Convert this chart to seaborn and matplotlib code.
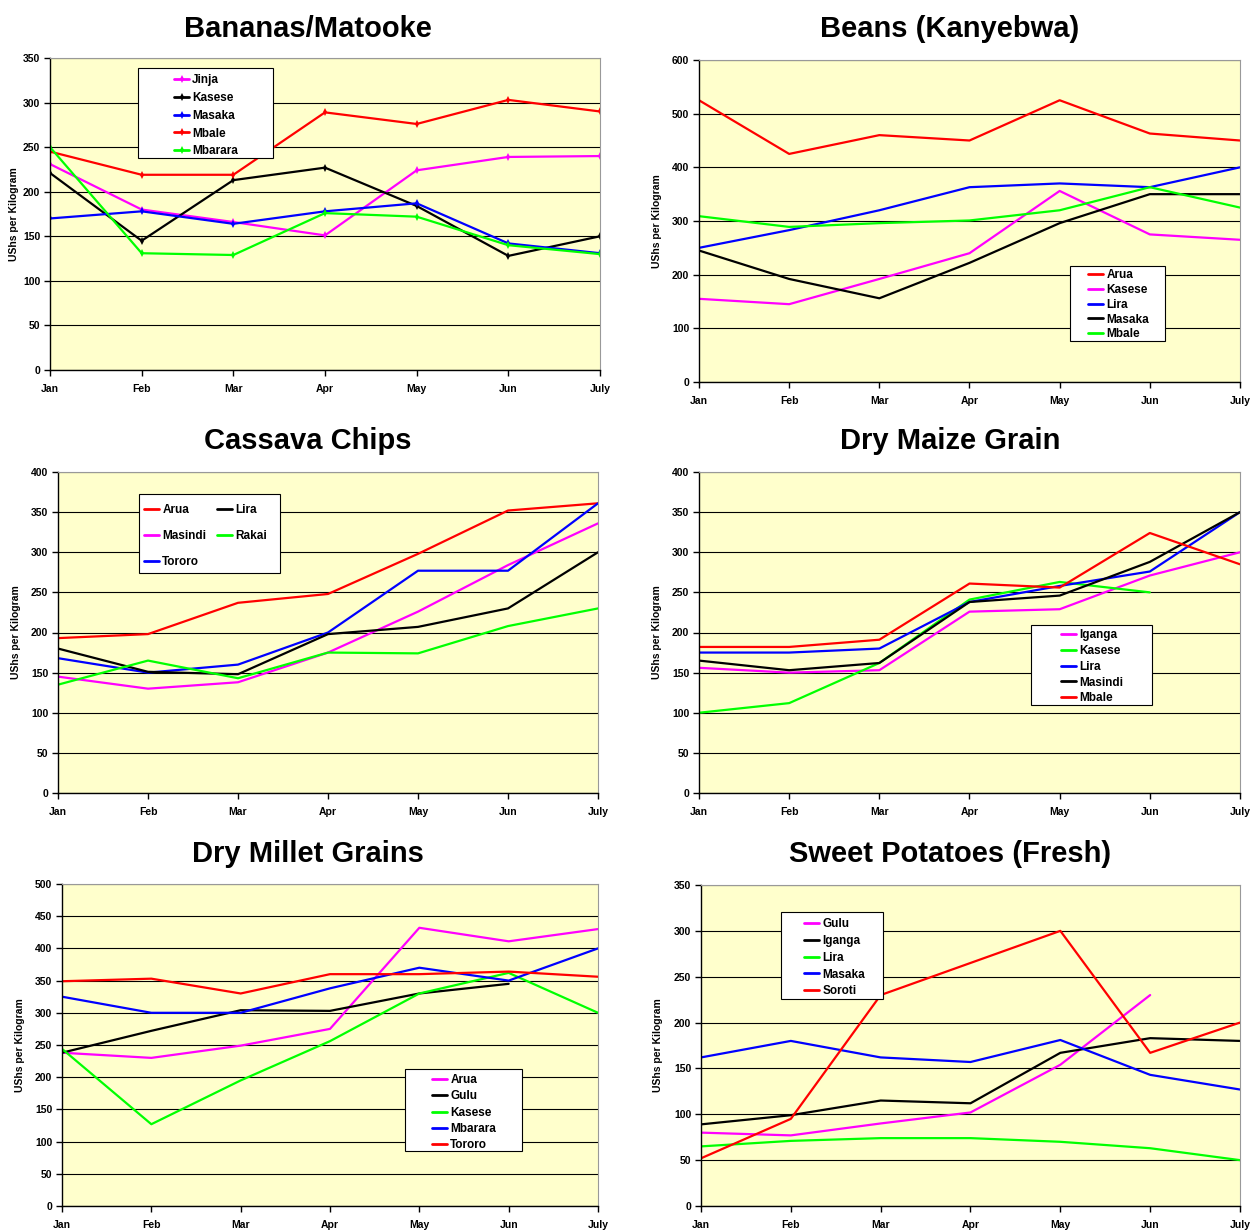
import matplotlib
matplotlib.use("Agg")
import matplotlib.pyplot as plt
from matplotlib.patches import Rectangle
import seaborn as sns
import pandas as pd
import numpy as np

months = ["Jan", "Feb", "Mar", "Apr", "May", "Jun", "July"]
nan = np.nan

# --- Bananas/Matooke ---
banana_markets = ["Jinja", "Kasese", "Masaka", "Mbale", "Mbarara"]
banana_jinja = [231, 180, 166, 151, 224, 239, 240]
banana_kasese = [221, 145, 213, 227, 184, 128, 150]
banana_masaka = [170, 178, 164, 178, 187, 142, 131]
banana_mbale = [245, 219, 219, 289, 276, 303, 290]
banana_mbarara = [250, 131, 129, 176, 172, 140, 130]

# --- Beans (Kanyebwa) ---
beans_markets = ["Arua", "Kasese", "Lira", "Masaka", "Mbale"]
beans_arua = [525, 425, 460, 450, 525, 463, 450]
beans_kasese = [155, 145, 192, 240, 356, 275, 265]
beans_lira = [250, 283, 320, 363, 370, 363, 400]
beans_masaka = [245, 192, 156, 222, 296, 350, 350]
beans_mbale = [309, 289, 296, 301, 320, 363, 325]

# --- Cassava Chips ---
cassava_markets = ["Arua", "Masindi", "Tororo", "Lira", "Rakai"]
cassava_arua = [193, 198, 237, 248, 298, 352, 361]
cassava_masindi = [145, 130, 138, 175, 226, 284, 336]
cassava_tororo = [168, 150, 160, 200, 277, 277, 361]
cassava_lira = [180, 151, 148, 198, 207, 230, 300]
cassava_rakai = [135, 165, 143, 175, 174, 208, 230]

# --- Dry Maize Grain ---
maize_markets = ["Iganga", "Kasese", "Lira", "Masindi", "Mbale"]
maize_iganga = [156, 150, 153, 226, 229, 271, 300]
maize_kasese = [100, 112, 162, 241, 263, 250, nan]
maize_lira = [175, 175, 180, 238, 258, 276, 350]
maize_masindi = [165, 153, 162, 238, 246, 288, 350]
maize_mbale = [182, 182, 191, 261, 256, 324, 285]

# --- Dry Millet Grains ---
millet_markets = ["Arua", "Gulu", "Kasese", "Mbarara", "Tororo"]
millet_arua = [238, 230, 249, 275, 432, 411, 430]
millet_gulu = [238, 272, 304, 303, 330, 345, nan]
millet_kasese = [244, 127, 195, 256, 330, 362, 300]
millet_mbarara = [325, 300, 300, 338, 370, 350, 400]
millet_tororo = [349, 353, 330, 360, 360, 364, 356]

# --- Sweet Potatoes (Fresh) ---
potato_markets = ["Gulu", "Iganga", "Lira", "Masaka", "Soroti"]
potato_gulu = [80, 77, 90, 102, 154, 230, nan]
potato_iganga = [89, 99, 115, 112, 167, 183, 180]
potato_lira = [65, 71, 74, 74, 70, 63, 50]
potato_masaka = [162, 180, 162, 157, 181, 143, 127]
potato_soroti = [52, 95, 230, 265, 300, 167, 200]

MAG, BLK, BLU, RED, GRN = "#FF00FF", "#000000", "#0000FF", "#FF0000", "#00FF00"

# layout in pixels: rect = axes box, box = legend frame, anchor = first handle (x, row top), gap = row spacing
panels = [
    dict(title="Bananas/Matooke", markets=banana_markets,
         series=[banana_jinja, banana_kasese, banana_masaka, banana_mbale, banana_mbarara],
         colors=[MAG, BLK, BLU, RED, GRN], ymax=350, marker=True,
         rect=[50, 58, 600, 370], title_xy=(308, 29), ylab_x=19,
         box=[138, 68, 273, 158], anchor=(174, 74), gap=18, ncol=1),
    dict(title="Beans (Kanyebwa)", markets=beans_markets,
         series=[beans_arua, beans_kasese, beans_lira, beans_masaka, beans_mbale],
         colors=[RED, MAG, BLU, BLK, GRN], ymax=600, marker=False,
         rect=[699, 60, 1240, 382], title_xy=(950, 29), ylab_x=662,
         box=[1070, 266, 1165, 341], anchor=(1088, 269), gap=15, ncol=1),
    dict(title="Cassava Chips", markets=cassava_markets,
         series=[cassava_arua, cassava_masindi, cassava_tororo, cassava_lira, cassava_rakai],
         colors=[RED, MAG, BLU, BLK, GRN], ymax=400, marker=False,
         rect=[58, 472, 598, 793], title_xy=(308, 441), ylab_x=21,
         box=[139, 494, 280, 573], anchor=(144, 504), gap=26, ncol=2),
    dict(title="Dry Maize Grain", markets=maize_markets,
         series=[maize_iganga, maize_kasese, maize_lira, maize_masindi, maize_mbale],
         colors=[MAG, GRN, BLU, BLK, RED], ymax=400, marker=False,
         rect=[699, 472, 1240, 793], title_xy=(950, 441), ylab_x=662,
         box=[1031, 625, 1152, 705], anchor=(1061, 629), gap=16, ncol=1),
    dict(title="Dry Millet Grains", markets=millet_markets,
         series=[millet_arua, millet_gulu, millet_kasese, millet_mbarara, millet_tororo],
         colors=[MAG, BLK, GRN, BLU, RED], ymax=500, marker=False,
         rect=[62, 884, 598, 1206], title_xy=(308, 854), ylab_x=25,
         box=[405, 1069, 522, 1151], anchor=(432, 1074), gap=16.5, ncol=1),
    dict(title="Sweet Potatoes (Fresh)", markets=potato_markets,
         series=[potato_gulu, potato_iganga, potato_lira, potato_masaka, potato_soroti],
         colors=[MAG, BLK, GRN, BLU, RED], ymax=350, marker=False,
         rect=[701, 885, 1240, 1206], title_xy=(950, 854), ylab_x=663,
         box=[781, 912, 883, 999], anchor=(804, 918), gap=17, ncol=1),
]

sns.set_style("white")
plt.rcParams['font.family'] = ['Liberation Sans', 'DejaVu Sans']
plt.rcParams['font.weight'] = 'bold'
plt.rcParams['text.color'] = 'black'
plt.rcParams['xtick.color'] = 'black'
plt.rcParams['ytick.color'] = 'black'
plt.rcParams['axes.labelcolor'] = 'black'

W, H = 1253, 1231
fig = plt.figure(figsize=(W / 100, H / 100), dpi=100)
LEG_FS = 8.5
fs_px = LEG_FS * 100 / 72

for p in panels:
    x0, y0, x1, y1 = p["rect"]
    ax = fig.add_axes([x0 / W, 1 - y1 / H, (x1 - x0) / W, (y1 - y0) / H])
    ax.set_facecolor("#FFFFCC")

    rows = []
    for m, vals in zip(p["markets"], p["series"]):
        for i, v in enumerate(vals):
            rows.append({"Month": i, "Market": m, "Price": v})
    df = pd.DataFrame(rows)

    sns.lineplot(ax=ax, data=df, x="Month", y="Price", hue="Market",
                 hue_order=p["markets"], palette=dict(zip(p["markets"], p["colors"])),
                 linewidth=1.6, marker="d" if p["marker"] else None,
                 markersize=4, markeredgewidth=0, sort=False, legend=True)

    step = 50 if p["ymax"] <= 500 else 100
    ax.set_ylim(0, p["ymax"])
    ax.set_yticks(np.arange(0, p["ymax"] + 1, step))
    ax.set_xlim(0, 6)
    ax.set_xticks(range(7))
    ax.set_xticklabels(months)
    ax.yaxis.grid(True, color="black", linewidth=0.8)
    ax.set_axisbelow(True)
    ax.tick_params(axis="both", labelsize=7.5, length=4, width=1, direction="out",
                   left=True, bottom=True, pad=3)
    ax.tick_params(axis="x", pad=6)
    for lab in ax.get_xticklabels() + ax.get_yticklabels():
        lab.set_fontweight("bold")
    for s in ["left", "bottom"]:
        ax.spines[s].set_color("black")
        ax.spines[s].set_linewidth(1)
    for s in ["top", "right"]:
        ax.spines[s].set_color("#999999")
        ax.spines[s].set_linewidth(0.8)
    ax.set_xlabel("")
    ax.set_ylabel("UShs per Kilogram", fontsize=7.5, fontweight="bold")
    ax.yaxis.set_label_coords((p["ylab_x"] - x0) / (x1 - x0), 0.5)

    tx, ty = p["title_xy"]
    fig.text(tx / W, 1 - ty / H, p["title"], fontsize=21, fontweight="bold",
             ha="center", va="center")

    # legend frame drawn separately to mimic the wide spreadsheet-style box
    bx0, by0, bx1, by1 = p["box"]
    ax.add_patch(Rectangle((bx0 / W, 1 - by1 / H), (bx1 - bx0) / W, (by1 - by0) / H,
                           transform=fig.transFigure, facecolor="white",
                           edgecolor="black", linewidth=0.8, zorder=4, clip_on=False))
    axl, ayl = p["anchor"]
    leg = ax.legend(loc="upper left", bbox_to_anchor=(axl / W, 1 - ayl / H),
                    bbox_transform=fig.transFigure, ncol=p["ncol"], frameon=False,
                    prop={"size": LEG_FS, "weight": "bold"}, handlelength=1.3,
                    handletextpad=0.25, borderpad=0, borderaxespad=0,
                    labelspacing=(p["gap"] - 1.03 * fs_px) / fs_px, columnspacing=0.9)
    for h in leg.get_lines():
        h.set_linewidth(2)

fig.savefig("out.png", dpi=100, facecolor="white")
